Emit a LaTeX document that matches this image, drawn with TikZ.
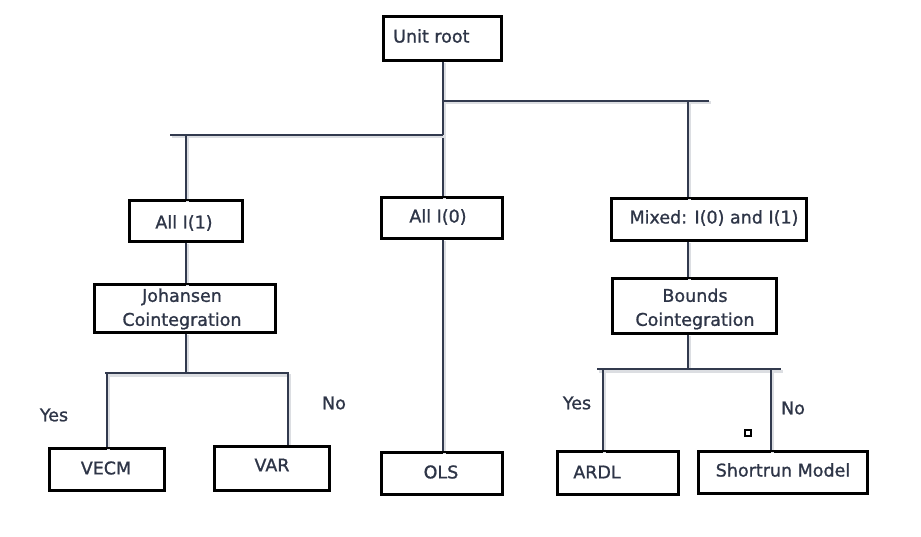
\documentclass[tikz,border=0pt]{standalone}
\usepackage{fontspec}
\setmainfont{DejaVu Sans}[FakeBold=1.1]
\begin{document}
\definecolor{ink}{HTML}{2E3547}
\definecolor{wire}{HTML}{323A4E}
\definecolor{shade}{HTML}{DCDEE2}
\begin{tikzpicture}[x=1pt,y=-1pt,
  box/.style={draw=black,line width=2.2pt,fill=white,inner sep=0pt},
  txt/.style={text=ink,font=\fontsize{17.5}{24}\selectfont,inner sep=0pt,align=center},
  w/.style={draw=wire,line width=1.9pt,
    preaction={draw=shade,line width=3pt,transform canvas={shift={(1.5pt,-2pt)}}}}
]
\useasboundingbox (0,0) rectangle (921,537);

% connector junctions and free ends
\coordinate (hR) at (443,101);
\coordinate (hRend) at (709,101);
\coordinate (hRdrop) at (688,101);
\coordinate (hL) at (443,135);
\coordinate (hLend) at (170,135);
\coordinate (hLdrop) at (186,135);
\coordinate (hJ) at (186,373);
\coordinate (hJa) at (105,373);
\coordinate (hJb) at (289,373);
\coordinate (hJl) at (107,373);
\coordinate (hJr) at (288,373);
\coordinate (hJrend) at (288,445);
\coordinate (hB) at (688,369);
\coordinate (hBa) at (597,369);
\coordinate (hBb) at (781,369);
\coordinate (hBl) at (603,369);
\coordinate (hBr) at (771,369);

% boxes
\node[box,minimum width=117pt,minimum height=43pt] (unit) at (442.5,38.5) {};
\node[box,minimum width=112pt,minimum height=40pt] (i1) at (186,221) {};
\node[box,minimum width=120pt,minimum height=40pt] (i0) at (442,218) {};
\node[box,minimum width=194pt,minimum height=41pt] (mix) at (709,219.5) {};
\node[box,minimum width=180pt,minimum height=47pt] (joh) at (185,308.5) {};
\node[box,minimum width=163pt,minimum height=54pt] (bnd) at (694.5,306) {};
\node[box,minimum width=114pt,minimum height=41pt] (vecm) at (107,469.5) {};
\node[box,minimum width=114pt,minimum height=43pt] (var) at (272,468.5) {};
\node[box,minimum width=120pt,minimum height=41pt] (ols) at (442,473.5) {};
\node[box,minimum width=120pt,minimum height=42pt] (ardl) at (618,473) {};
\node[box,minimum width=168pt,minimum height=41pt] (srm) at (783,472.5) {};

% connectors
\draw[w] (unit.south -| hR) -- (i0.north -| hR);
\draw[w] (hR) -- (hRend);
\draw[w] (hRdrop) -- (mix.north -| hRdrop);
\draw[w] (hLend) -- (hL);
\draw[w] (hLdrop) -- (i1.north -| hLdrop);
\draw[w] (i1.south -| hLdrop) -- (joh.north -| hLdrop);
\draw[w] (joh.south -| hLdrop) -- (hJ);
\draw[w] (hJa) -- (hJb);
\draw[w] (hJl) -- (vecm.north -| hJl);
\draw[w] (hJr) -- (hJrend);
\draw[w] (i0.south -| hR) -- (ols.north -| hR);
\draw[w] (mix.south -| hB) -- (bnd.north -| hB);
\draw[w] (bnd.south -| hB) -- (hB);
\draw[w] (hBa) -- (hBb);
\draw[w] (hBl) -- (ardl.north -| hBl);
\draw[w] (hBr) -- (srm.north -| hBr);

% redraw box outlines over the line ends
\foreach \n in {unit,i1,i0,mix,joh,bnd,vecm,var,ols,ardl,srm}
  \draw[black,line width=2.2pt] (\n.north west) rectangle (\n.south east);

% texts
\node[txt,anchor=west] at (393,36) {Unit root};
\node[txt] at (184,223) {All I(1)};
\node[txt] at (438,217) {All I(0)};
\node[txt] at (714,218) {Mixed: I(0) and I(1)};
\node[txt] at (182,309) {Johansen\\Cointegration};
\node[txt] at (695,309) {Bounds\\Cointegration};
\node[txt] at (106,468) {VECM};
\node[txt] at (272,465) {VAR};
\node[txt] at (441,472) {OLS};
\node[txt] at (597,472) {ARDL};
\node[txt] at (783,470) {Shortrun Model};
\node[txt] (yes1) at (54,415) {Yes};
\node[txt] (no1) at (334,403) {No};
\node[txt] (yes2) at (577,403) {Yes};
\node[txt] (no2) at (793,408) {No};

% small marker
\draw[black,line width=1.3pt] (745,430) rectangle (751,436);
\end{tikzpicture}
\end{document}
